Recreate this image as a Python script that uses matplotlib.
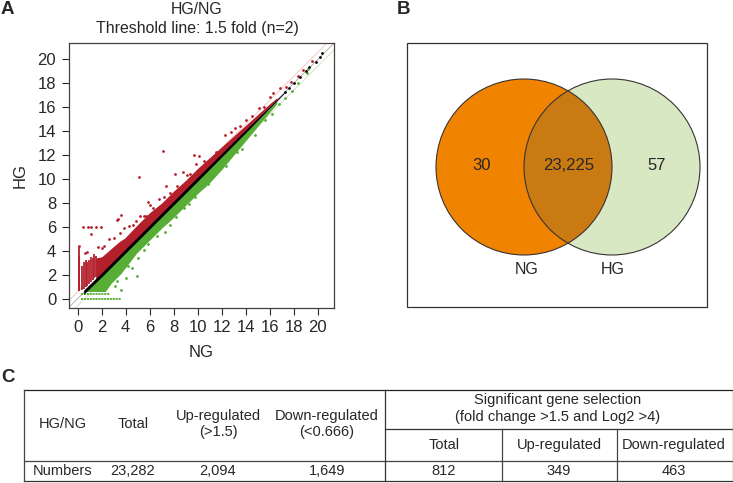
import matplotlib
matplotlib.use('Agg')
import matplotlib.pyplot as plt
from matplotlib.patches import Circle, Rectangle

plt.rcParams['font.family'] = ['Liberation Sans', 'DejaVu Sans']

INK = '#2a2526'
RED = '#b3202c'
GREEN = '#58ad35'

# scatter envelope
red_band_x = [1.5, 2, 2.8, 3.5, 3.9, 5, 6, 7, 8, 9, 10, 11, 12, 13, 14, 15, 16, 16.6]
red_top = [3.4, 3.5, 4.2, 4.8, 5.05, 6.2, 7.2, 8.0, 9.0, 9.9, 10.9, 11.8, 12.7, 13.6, 14.5, 15.4, 16.3, 16.8]
red_low = [1.6, 2.1, 2.9, 3.6, 4.0, 5.1, 6.1, 7.1, 8.1, 9.1, 10.1, 11.1, 12.1, 13.1, 14.1, 15.1, 16.1, 16.65]

green_band_x = [0.6, 2.3, 2.8, 3.6, 4.9, 6, 7, 8, 9, 10, 11, 12, 13, 14, 15, 16, 16.6]
green_bottom = [0.6, 0.6, 1.3, 2.1, 3.8, 4.9, 5.9, 6.8, 7.8, 8.8, 9.7, 10.8, 12.0, 13.2, 14.4, 15.6, 16.3]
green_top = [0.6, 2.2, 2.7, 3.5, 4.8, 5.9, 6.9, 7.9, 8.9, 9.9, 10.9, 11.9, 12.9, 13.9, 14.9, 15.9, 16.55]

black_x = [0.5, 2, 4, 6, 8, 10, 12, 14, 16, 17.2]
black_top = [0.72, 2.17, 4.17, 6.17, 8.17, 10.17, 12.15, 14.13, 16.08, 17.25]
black_bottom = [0.38, 1.83, 3.83, 5.83, 7.83, 9.83, 11.85, 13.87, 15.92, 17.15]

# low-intensity stripes of up-regulated genes
stripe_x = [0.07, 0.14, 0.4, 0.52, 0.66, 0.8, 0.95, 1.1, 1.25, 1.4, 1.52]
stripe_lo = [0.6, 0.6, 0.75, 0.85, 1.0, 1.1, 1.25, 1.4, 1.55, 1.7, 1.8]
stripe_hi = [4.3, 3.6, 2.7, 3.1, 3.2, 3.1, 3.2, 3.5, 3.4, 3.7, 3.6]

# low-intensity rows of down-regulated genes
row_y = [0.0, 0.4]
row_x0 = [0.3, 0.3]
row_x1 = [3.65, 2.7]

red_pt_x = [0.12, 0.47, 0.88, 1.15, 1.56, 1.97, 1.09, 3.58, 3.4, 3.25, 5.9, 6.0, 7.08, 0.65, 0.8, 1.7, 2.0, 2.2, 2.6,
            3.0, 3.5, 3.9, 4.3, 4.6, 5.1, 5.2, 5.7, 6.3, 7.4, 7.7, 8.08, 8.8, 9.08, 9.7, 9.9, 10.1, 10.5, 11.0,
            12.3, 13.1, 13.5, 14.5, 15.1, 16.0, 16.3, 16.9, 17.4, 17.8, 18.4, 18.75, 19.55,
            4.9, 5.5, 6.8, 7.2, 8.3, 9.4, 10.8, 11.5, 12.8, 14.0, 15.5]
red_pt_y = [4.4, 6.0, 6.0, 6.0, 6.0, 6.0, 5.4, 7.0, 6.7, 6.6, 8.1, 7.8, 12.35, 3.8, 3.9, 4.3, 4.2, 4.4, 5.0,
            5.1, 5.5, 5.9, 6.1, 6.2, 10.2, 6.9, 6.9, 7.56, 9.4, 8.8, 10.4, 10.6, 10.3, 12.0, 11.3, 11.9, 11.5, 11.6,
            13.7, 14.25, 14.4, 15.3, 15.9, 16.9, 17.2, 17.6, 17.7, 18.1, 18.65, 19.1, 19.9,
            6.5, 6.9, 8.3, 8.5, 9.4, 10.4, 11.4, 12.3, 13.9, 14.9, 16.0]
green_pt_x = [4.97, 3.6, 3.1, 4.0, 4.5, 5.05, 5.9, 7.3, 7.7, 8.9, 9.8, 10.5, 11.6, 13.25, 14.8,
              15.6, 16.2, 16.8, 17.3, 17.9, 18.4, 19.1, 19.2,
              3.3, 4.2, 5.5, 6.6, 8.2, 9.3, 10.9, 12.4, 13.7]
green_pt_y = [1.93, 0.7, 1.1, 1.7, 2.6, 3.4, 4.6, 5.6, 6.2, 7.6, 8.5, 9.4, 10.9, 12.3, 13.7,
              14.9, 15.4, 16.3, 16.75, 17.4, 18.0, 18.85, 19.2,
              1.5, 2.7, 4.1, 5.2, 6.8, 7.9, 9.6, 11.1, 12.5]
black_pt_x = [17.3, 17.6, 18.0, 18.5, 19.0, 19.3, 19.9, 20.2, 20.4]
black_pt_y = [17.3, 17.65, 18.0, 18.5, 19.0, 19.35, 19.8, 20.2, 20.5]

threshold = 0.585
ticks = list(range(0, 21, 2))

venn_labels = ['30', '23,225', '57']
venn_names = ['NG', 'HG']

head_left = ['HG/NG', 'Total', 'Up-regulated\n(>1.5)', 'Down-regulated\n(<0.666)']
row_left = ['Numbers', '23,282', '2,094', '1,649']
head_group = 'Significant gene selection\n(fold change >1.5 and Log2 >4)'
head_right = ['Total', 'Up-regulated', 'Down-regulated']
row_right = ['812', '349', '463']

fig = plt.figure(figsize=(7.33, 4.83), dpi=100)

# canvas in pixels, for the venn, the table and the panel letters
bg = fig.add_axes([0, 0, 1, 1])
bg.set_xlim(0, 733)
bg.set_ylim(483, 0)
bg.axis('off')

# A: scatter
ax = fig.add_axes([68.7/733, 1-308/483, (334-68.7)/733, (308-42.7)/483])
ax.set_xlim(-0.75, 21.36)
ax.set_ylim(-0.78, 21.4)
ax.axline((0, 0), slope=1, color='#999999', lw=0.5, zorder=1)
ax.axline((0, threshold), slope=1, color='#eec9c9', lw=0.7, zorder=1)
ax.axline((0, -threshold), slope=1, color='#d5e6c8', lw=0.7, zorder=1)
ax.fill_between(red_band_x, red_low, red_top, color=RED, lw=0, zorder=2)
ax.vlines(stripe_x, stripe_lo, stripe_hi, color=RED, lw=1.3, zorder=2)
ax.fill_between(green_band_x, green_bottom, green_top, color=GREEN, lw=0, zorder=2)
ax.hlines(row_y, row_x0, row_x1, color=GREEN, lw=1.3, linestyles=(0, (1.2, 0.4)), zorder=2)
ax.fill_between(black_x, black_bottom, black_top, color='black', lw=0, zorder=3)
ax.scatter(red_pt_x, red_pt_y, s=4, color=RED, lw=0, zorder=3)
ax.scatter(green_pt_x, green_pt_y, s=4, color=GREEN, lw=0, zorder=3)
ax.scatter(black_pt_x, black_pt_y, s=4, color='black', lw=0, zorder=3)
ax.set_xticks(ticks)
ax.set_yticks(ticks)
ax.tick_params(labelsize=12, length=5, width=0.8, color=INK, labelcolor=INK, pad=4)
for s in ax.spines.values():
    s.set_linewidth(0.9)
    s.set_color('#444041')
ax.set_xlabel('NG', fontsize=12, color=INK, labelpad=7)
ax.set_ylabel('HG', fontsize=12, color=INK, labelpad=7)
bg.text(197, 9, 'HG/NG', ha='center', va='center', fontsize=11.4, color=INK)
bg.text(197, 28, 'Threshold line: 1.5 fold (n=2)', ha='center', va='center', fontsize=11.4, color=INK)

# B: venn
bg.add_patch(Rectangle((407, 43), 300, 264, fc='none', ec='#333333', lw=0.9))
bg.add_patch(Circle((524, 167), 88, fc='#f08300', ec='none'))
bg.add_patch(Circle((612, 167), 88, fc='#d7e8c3', ec='none'))
left_c = Circle((524, 167), 88, transform=bg.transData)
inter = Circle((612, 167), 88, fc='#c97a12', ec='none')
bg.add_patch(inter)
inter.set_clip_path(left_c)
bg.add_patch(Circle((524, 167), 88, fc='none', ec='#3a3333', lw=0.8))
bg.add_patch(Circle((612, 167), 88, fc='none', ec='#3a3333', lw=0.8))
for px, t in zip([482, 569, 657], venn_labels):
    bg.text(px, 166, t, ha='center', va='center', fontsize=12, color=INK)
for px, t in zip([527, 613], venn_names):
    bg.text(px, 270, t, ha='center', va='center', fontsize=11.5, color=INK)

# C: table
left, right, top, bottom = 23.5, 732.5, 390, 481
bg.plot([left, right], [top, top], color='#222222', lw=0.9)
bg.plot([left, right], [bottom, bottom], color='#333333', lw=0.9)
bg.plot([left, right], [460.5, 460.5], color='#444444', lw=0.9)
bg.plot([385, right], [429, 429], color='#333333', lw=0.9)
bg.plot([left, left], [top, bottom], color='#444444', lw=0.9)
bg.plot([right, right], [top, bottom], color='#444444', lw=0.9)
bg.plot([385, 385], [top, bottom], color='#333333', lw=0.9)
bg.plot([502, 502], [429, bottom], color='#444444', lw=0.9)
bg.plot([617, 617], [429, bottom], color='#444444', lw=0.9)

TS = 10.5
for px, t in zip([63, 133, 218, 327], head_left):
    bg.text(px, 424, t, ha='center', va='center', fontsize=TS, color=INK, linespacing=1.25)
for px, t in zip([63, 133, 218, 327], row_left):
    bg.text(px, 471, t, ha='center', va='center', fontsize=TS, color=INK)
bg.text(558, 408.5, head_group, ha='center', va='center', fontsize=TS, color=INK, linespacing=1.25)
for px, t in zip([444, 559, 674], head_right):
    bg.text(px, 445, t, ha='center', va='center', fontsize=TS, color=INK)
for px, t in zip([444, 559, 674], row_right):
    bg.text(px, 471, t, ha='center', va='center', fontsize=TS, color=INK)

for px, py, t in [(1, 10, 'A'), (397, 10, 'B'), (1, 378, 'C')]:
    bg.text(px, py, t, ha='left', va='center', fontsize=13.5, fontweight='bold', color=INK)

fig.savefig('out.png', dpi=100)
